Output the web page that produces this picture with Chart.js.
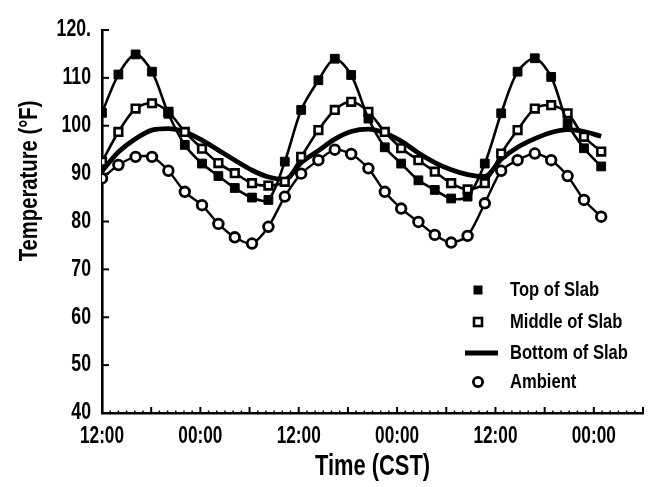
<!DOCTYPE html>
<html><head><meta charset="utf-8">
<script src="https://cdn.jsdelivr.net/npm/chart.js@4"></script>
<style>html,body{margin:0;padding:0;background:#fff}#c{display:block}</style>
</head><body>
<canvas id="c" width="653" height="487"></canvas>
<script>
// Time in hours after the first 12:00
const hours = [0,2,4.1,6.1,8.1,10.1,12.2,14.2,16.2,18.3,20.3,22.3,24.3,26.4,28.4,30.4,32.5,34.5,36.5,38.6,40.6,42.6,44.6,46.7,48.7,50.7,52.8,54.8,56.8,58.8,60.9];
const topSlab = [102.7,110.7,114.9,111.3,102.5,96.0,92.1,89.5,87.0,85.0,84.5,92.5,103.3,109.5,114.0,110.6,101.5,95.5,92.1,88.6,86.6,84.8,85.2,92.1,102.6,111.3,114.1,110.2,100.5,95.3,91.5];
const middleSlab = [92.5,98.7,103.6,104.7,102.9,98.7,95.2,92.2,90.1,88.0,87.5,88.3,93.5,99.1,103.3,105.0,102.9,98.7,95.3,92.8,90.4,88.0,86.7,88.0,94.2,99.1,103.6,104.3,102.6,97.7,94.6];
const bottomSlab = [90.5,94.5,97.3,99.1,99.4,98.7,97.0,94.9,92.8,90.7,89.3,88.8,92.3,94.8,97.2,98.8,99.3,98.5,96.8,94.3,92.3,90.8,89.8,89.4,93.0,95.5,97.3,98.6,99.2,98.8,97.8];
const ambient = [89.0,91.8,93.5,93.5,90.6,86.2,83.4,79.5,76.7,75.4,78.9,85.2,90.0,92.8,95.0,94.1,91.1,86.2,82.7,79.9,77.2,75.6,77.0,83.8,90.6,92.8,94.2,92.8,89.5,84.5,81.0];
const xTickHours = [0,12,24,36,48,60];
const xTickLabels = ['12:00','00:00','12:00','00:00','12:00','00:00'];
const yTickValues = [40,50,60,70,80,90,100,110,120];
const yTickLabels = ['40','50','60','70','80','90','100','110','120.'];
const seriesNames = ['Top of Slab','Middle of Slab','Bottom of Slab','Ambient'];
const xTitle = 'Time (CST)';
const yTitle = 'Temperature (°F)';

const FONT = '"Liberation Sans", Arial, sans-serif';
const pts = arr => arr.map((v,i)=>({x:hours[i], y:v}));

function txt(ctx, s, x, y, size, sx, align, rot){
  ctx.save();
  ctx.translate(x, y);
  if (rot) ctx.rotate(rot);
  ctx.scale(sx, 1);
  ctx.font = 'bold ' + size + 'px ' + FONT;
  ctx.fillStyle = '#000';
  ctx.textAlign = align; ctx.textBaseline = 'middle';
  ctx.fillText(s, 0, 0);
  ctx.restore();
}

const axisDecor = {
  id:'axisDecor',
  afterDraw(chart){
    const ctx = chart.ctx, xs = chart.scales.x, ys = chart.scales.y;
    const L = chart.chartArea.left, B = chart.chartArea.bottom;
    ctx.save();
    ctx.strokeStyle = '#000';
    ctx.lineWidth = 2;
    yTickValues.forEach(v=>{
      const y = ys.getPixelForValue(v);
      ctx.beginPath(); ctx.moveTo(L, y); ctx.lineTo(L+7, y); ctx.stroke();
    });
    for(let h=0; h<=66; h++){
      const x = xs.getPixelForValue(h);
      const len = (h%6===0) ? 6 : 2.5;
      ctx.lineWidth = (h%6===0) ? 2 : 1.5;
      ctx.beginPath(); ctx.moveTo(x, B); ctx.lineTo(x, B-len); ctx.stroke();
    }
    ctx.restore();
    yTickValues.forEach((v,i)=>txt(ctx, yTickLabels[i], 91, ys.getPixelForValue(v), 23, 0.77, 'right'));
    xTickHours.forEach((h,i)=>txt(ctx, xTickLabels[i], xs.getPixelForValue(h), 437, 23, 0.75, 'center'));
    txt(ctx, xTitle, (chart.chartArea.left+chart.chartArea.right)/2, 467, 30, 0.73, 'center');
    txt(ctx, yTitle, 30, 181, 25, 0.81, 'center', -Math.PI/2);
  }
};

const insideLegend = {
  id:'insideLegend',
  afterDraw(chart){
    const ctx = chart.ctx;
    const rows = [290,322,353,382];
    const sx = 478, tx = 510;
    ctx.save();
    chart.data.datasets.forEach((ds,i)=>{
      const y = rows[i];
      ctx.fillStyle = '#000'; ctx.strokeStyle = '#000';
      if (i===0){ ctx.fillRect(sx-4.5, y-4.5, 9, 9); }
      else if (i===1){ ctx.lineWidth = 2.6; ctx.fillStyle='#fff'; ctx.fillRect(sx-4,y-4,8,8); ctx.strokeRect(sx-4, y-4, 8, 8); }
      else if (i===2){ ctx.fillRect(sx-13, y-2.5, 33, 5); }
      else { ctx.lineWidth = 2.8; ctx.beginPath(); ctx.arc(sx, y, 4.6, 0, Math.PI*2); ctx.fillStyle='#fff'; ctx.fill(); ctx.stroke(); }
    });
    ctx.restore();
    chart.data.datasets.forEach((ds,i)=>txt(ctx, ds.label, tx, rows[i], 21, 0.79, 'left'));
  }
};

new Chart(document.getElementById('c'), {
  type:'line',
  data:{
    datasets:[
      {label:seriesNames[0], data:pts(topSlab), borderColor:'#000', borderWidth:2.6, backgroundColor:'#000',
       pointStyle:'rect', pointRadius:6.2, pointBorderWidth:1, pointBackgroundColor:'#000', pointBorderColor:'#000', tension:0.3, order:0},
      {label:seriesNames[1], data:pts(middleSlab), borderColor:'#000', borderWidth:2.6, backgroundColor:'#fff',
       pointStyle:'rect', pointRadius:5.4, pointBorderWidth:2.6, pointBackgroundColor:'#fff', pointBorderColor:'#000', tension:0.3, order:1},
      {label:seriesNames[2], data:pts(bottomSlab), borderColor:'#000', borderWidth:4.8, pointRadius:0,
       cubicInterpolationMode:'monotone', order:2},
      {label:seriesNames[3], data:pts(ambient), borderColor:'#000', borderWidth:2.4, backgroundColor:'#fff',
       pointStyle:'circle', pointRadius:4.8, pointBorderWidth:2.8, pointBackgroundColor:'#fff', pointBorderColor:'#000', tension:0.25, order:3}
    ]
  },
  options:{
    responsive:false, animation:false, devicePixelRatio:1,
    layout:{padding:{left:0, top:30, right:10, bottom:0}},
    plugins:{legend:{display:false}, tooltip:{enabled:false}},
    scales:{
      x:{type:'linear', min:0, max:66,
        afterFit(s){ s.height = 74; },
        afterBuildTicks(s){ s.ticks = xTickHours.map(v=>({value:v})); },
        grid:{display:false, drawTicks:false},
        border:{display:true, color:'#000', width:2.6},
        ticks:{display:false}
      },
      y:{type:'linear', min:40, max:120,
        afterFit(s){ s.width = 102; },
        afterBuildTicks(s){ s.ticks = yTickValues.map(v=>({value:v})); },
        grid:{display:false, drawTicks:false},
        border:{display:true, color:'#000', width:2.6},
        ticks:{display:false}
      }
    }
  },
  plugins:[axisDecor, insideLegend]
});
</script>
</body></html>
